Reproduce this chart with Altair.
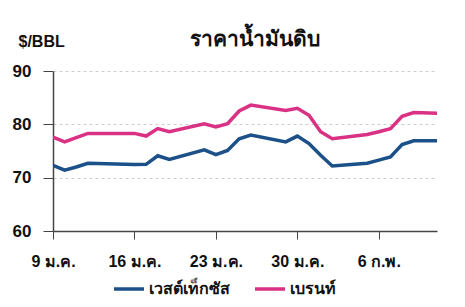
import altair as alt
import pandas as pd

dates = ["2024-01-09", "2024-01-10", "2024-01-11", "2024-01-12", "2024-01-16",
         "2024-01-17", "2024-01-18", "2024-01-19", "2024-01-22", "2024-01-23",
         "2024-01-24", "2024-01-25", "2024-01-26", "2024-01-29", "2024-01-30",
         "2024-01-31", "2024-02-01", "2024-02-02", "2024-02-05", "2024-02-06",
         "2024-02-07", "2024-02-08", "2024-02-09", "2024-02-12"]
wti = [72.3, 71.4, 72.0, 72.7, 72.45, 72.5, 74.1, 73.4, 75.2, 74.3,
       75.1, 77.3, 78.0, 76.7, 77.8, 76.4, 74.2, 72.2, 72.7, 73.3,
       73.9, 76.2, 76.9, 76.9]
brent = [77.6, 76.7, 77.5, 78.3, 78.3, 77.8, 79.2, 78.6, 80.1, 79.5,
         80.1, 82.5, 83.6, 82.6, 83.0, 81.7, 78.6, 77.3, 78.1, 78.6,
         79.2, 81.5, 82.2, 82.0]
series_names = ["เวสต์เท็กซัส", "เบรนท์"]
colors = ["#1c5089", "#d93183"]
title_text = ["ราคาน้ำมันดิบ"]
unit_text = "$/BBL"

rows = []
for d, v in zip(dates, wti):
    rows.append({"date": d, "value": v, "series": series_names[0]})
for d, v in zip(dates, brent):
    rows.append({"date": d, "value": v, "series": series_names[1]})
df = pd.DataFrame(rows)

FONT = "Liberation Sans"

tick_vals = [alt.DateTime(year=2024, month=1, date=9),
             alt.DateTime(year=2024, month=1, date=16),
             alt.DateTime(year=2024, month=1, date=23),
             alt.DateTime(year=2024, month=1, date=30),
             alt.DateTime(year=2024, month=2, date=6)]

lines = alt.Chart(df).mark_line(strokeWidth=3.5, clip=True).encode(
    x=alt.X("date:T",
            scale=alt.Scale(domain=[alt.DateTime(year=2024, month=1, date=9),
                                    alt.DateTime(year=2024, month=2, date=11)]),
            axis=alt.Axis(values=tick_vals,
                          labelExpr="date(datum.value) + ' ' + (month(datum.value) == 0 ? 'ม.ค.' : 'ก.พ.')",
                          title=None, grid=False, tickSize=8, tickColor="#444",
                          domainColor="#444", domainWidth=1.5, labelFontSize=16,
                          labelFontWeight="bold", labelColor="#111", labelFont=FONT,
                          labelPadding=14, labelFlush=False)),
    y=alt.Y("value:Q",
            scale=alt.Scale(domain=[60, 90], nice=False, zero=False),
            axis=alt.Axis(values=[60, 70, 80, 90], title=unit_text, titleAngle=0,
                          titleAlign="left", titleBaseline="middle", titleX=-35, titleY=-30,
                          titleFontSize=16, titleFontWeight="bold", titleFont=FONT,
                          titleColor="#111",
                          grid=True, gridDash=[3, 3], gridColor="#cccccc",
                          tickSize=10, tickColor="#444", domainColor="#444", domainWidth=1.5,
                          labelFontSize=17, labelFontWeight="bold", labelColor="#111",
                          labelFont=FONT, labelPadding=12)),
    color=alt.Color("series:N",
                    scale=alt.Scale(domain=series_names, range=colors),
                    legend=alt.Legend(title=None, orient="none", direction="horizontal",
                                      legendX=59, legendY=201, symbolType="stroke",
                                      symbolSize=900, symbolStrokeWidth=3.5,
                                      labelFontSize=16, labelFontWeight="bold",
                                      labelFont=FONT, labelColor="#111",
                                      columnPadding=18, labelOffset=3)),
)

title = alt.Chart(pd.DataFrame({"t": title_text})).mark_text(
    fontSize=21, fontWeight="bold", font=FONT, color="#111",
    align="center", baseline="middle"
).encode(text="t:N", x=alt.value(202), y=alt.value(-31))

chart = alt.layer(lines, title).properties(
    width=384, height=160,
    padding={"left": 53, "top": 71, "right": 28, "bottom": 76},
    autosize=alt.AutoSizeParams(type="none"),
).configure_view(stroke=None)

chart.save("out.html", embed_options={"renderer": "svg", "actions": False})
